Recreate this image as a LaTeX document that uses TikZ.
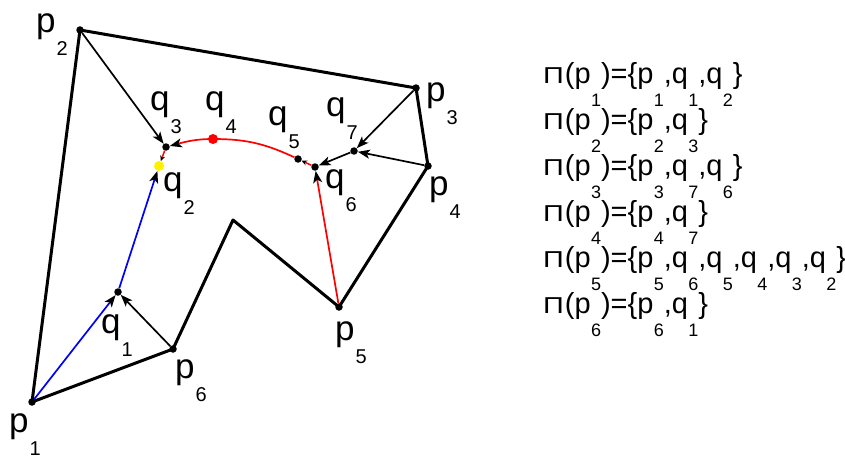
\documentclass[tikz,border=0pt]{standalone}
\usepackage{fontspec}
\setmainfont{Liberation Sans}
\usetikzlibrary{arrows.meta}
\newcommand{\lo}[1]{\kern1pt\raisebox{-23pt}{\fontsize{20}{20}\selectfont #1}}
\newcommand{\los}[1]{\kern0.3pt\raisebox{-23pt}{\fontsize{18}{18}\selectfont #1}}
\newcommand{\bigpi}{\scalebox{1.25}[1]{\fontsize{23}{23}\selectfont Π}\kern1pt}
\tikzset{dot/.style={circle,fill=black,inner sep=0pt,minimum size=7.5pt},wall/.style={line width=3pt,line join=round},ptr/.style={-{Stealth[length=12pt,width=9pt,inset=3pt,color=black]},line width=1.7pt},tiny/.style={-{Stealth[length=5.5pt,width=5pt,color=black]},line width=1.5pt},lbl/.style={anchor=base west,inner sep=0pt,font=\fontsize{35}{35}\selectfont},set/.style={anchor=base west,inner sep=0pt,font=\fontsize{29}{29}\selectfont}}

\begin{document}
\begin{tikzpicture}[x=1pt,y=-1pt]
\useasboundingbox (0,0) rectangle (845,460);
\foreach \n/\xx/\yy in {p1/32/402,p2/80/30,p3/416/88,p4/428/166,p5/339/307,p6/173/349,q1/118/292,q3/166/147,q5/298/159,q6/315/167,q7/354/151}{\node[dot] (\n) at (\xx,\yy) {};}
\node[dot,fill=yellow,minimum size=10pt] (q2) at (159,166) {};
\node[dot,fill=red,minimum size=10pt] (q4) at (213,139) {};
\coordinate (r) at (233,220);
\draw[wall] (p1.center)--(p2.center)--(p3.center)--(p4.center)--(p5.center)--(r)--(p6.center)--cycle;
% pointers
\draw[ptr,blue] (p1)--(q1);
\draw[ptr,blue] (q1)--(q2);
\draw[ptr] (p6)--(q1);
\draw[ptr] (p2)--(q3);
\draw[ptr] (p3)--(q7);
\draw[ptr] (p4)--(q7);
\draw[ptr] (q7)--(q6);
\draw[ptr,red] (p5)--(q6);
\draw[tiny,red] (q6)--(q5);
\draw[tiny,red] (q3)--(q2);
\draw[ptr,red] (q5) to[out=155,in=0] (q4.center) to[out=180,in=15] (q3);
% labels
\foreach \n/\xx/\yy/\t in {p1/9/432/p\lo{1},p2/36/33/p\lo{2},p3/426/101/p\lo{3},p4/429/195/p\lo{4},p5/335/340/p\lo{5},p6/175/378/p\lo{6},q1/101/333/q\lo{1},q2/163/191/q\lo{2},q3/150/110/q\lo{3},q4/205/110/q\lo{4},q5/268/125/q\lo{5},q6/325/188/q\lo{6},q7/326/116/q\lo{7}}{\node[lbl] (l\n) at (\xx,\yy) {\t};}
\foreach \i/\t in {1/{p\los{1},q\los{1},q\los{2}},2/{p\los{2},q\los{3}},3/{p\los{3},q\los{7},q\los{6}},4/{p\los{4},q\los{7}},5/{p\los{5},q\los{6},q\los{5},q\los{4},q\los{3},q\los{2}},6/{p\los{6},q\los{1}}}{\node[set] (s\i) at (543,37+46*\i) {\bigpi(p\los{\i})=\{\t\}};}
\end{tikzpicture}
\end{document}
